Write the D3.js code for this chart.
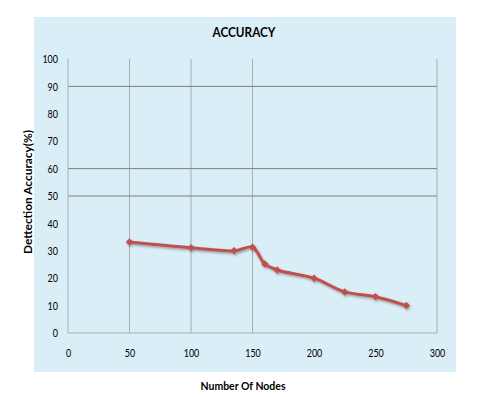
<!DOCTYPE html>
<html><head><meta charset="utf-8">
<script src="https://cdn.jsdelivr.net/npm/d3@7"></script>
<style>body{margin:0;background:#fff}svg{display:block}</style>
</head><body>
<svg id="c" width="500" height="397"></svg>
<script>
const nodes = [50, 100, 135, 150, 160, 170, 200, 225, 250, 275];
const accuracy = [33.2, 31.1, 30.0, 31.3, 25.2, 23.0, 20.0, 15.0, 13.2, 10.0];
const xTicks = [0, 50, 100, 150, 200, 250, 300];
const yTicks = [0, 10, 20, 30, 40, 50, 60, 70, 80, 90, 100];
const xGrid = [50, 100, 150, 300];
const yGrid = [90, 60, 50];
const title = "ACCURACY";
const xLabel = "Number Of Nodes";
const yLabel = "Dettection Accuracy(%)";

const svg = d3.select("#c");
const font = "Lato,'Liberation Sans',sans-serif";
const defs = svg.append("defs");
const f = defs.append("filter").attr("id","sh").attr("x","-20%").attr("y","-20%").attr("width","140%").attr("height","140%");
f.append("feDropShadow").attr("dx",1).attr("dy",1.5).attr("stdDeviation",1).attr("flood-color","#000").attr("flood-opacity",0.35);

svg.append("rect").attr("x",34).attr("y",17).attr("width",422).attr("height",355).attr("fill","#DAEEF7");

const x = d3.scaleLinear().domain([0,300]).range([68,437]);
const y = d3.scaleLinear().domain([0,100]).range([333,59]);

const g = svg.append("g");
g.selectAll(".vg").data(xGrid).join("line")
  .attr("x1",d=>x(d)).attr("x2",d=>x(d)).attr("y1",y(100)).attr("y2",y(0))
  .attr("stroke","#A5AFB5").attr("stroke-width",1);
g.selectAll(".hg").data(yGrid).join("line")
  .attr("x1",x(0)).attr("x2",x(300)).attr("y1",d=>y(d)).attr("y2",d=>y(d))
  .attr("stroke","#7F7F7F").attr("stroke-width",1);
g.append("line").attr("x1",x(0)).attr("x2",x(0)).attr("y1",y(100)).attr("y2",y(0)).attr("stroke","#A5AFB5");
g.append("line").attr("x1",x(0)).attr("x2",x(300)).attr("y1",y(0)).attr("y2",y(0)).attr("stroke","#A5AFB5");

function squeeze(sel){
  sel.attr("font-family",font).attr("font-size",11.5).attr("fill","#000")
    .attr("lengthAdjust","spacingAndGlyphs")
    .attr("textLength",function(){ return this.textContent.length*5.2; });
}
const yAxis = d3.axisLeft(y).tickValues(yTicks).tickSize(0).tickPadding(10);
svg.append("g").attr("transform",`translate(${x(0)},0)`).call(yAxis)
  .call(s=>s.select(".domain").remove())
  .selectAll("text").call(squeeze);
const xAxis = d3.axisBottom(x).tickValues(xTicks).tickSize(0).tickPadding(16);
svg.append("g").attr("transform",`translate(0,${y(0)})`).call(xAxis)
  .call(s=>s.select(".domain").remove())
  .selectAll("text").call(squeeze);

const data = nodes.map((n,i)=>({n, v: accuracy[i]}));
const line = d3.line().x(d=>x(d.n)).y(d=>y(d.v)).curve(d3.curveCatmullRom.alpha(0.5));
const sg = svg.append("g").attr("filter","url(#sh)");
sg.append("path").datum(data).attr("d",line).attr("fill","none")
  .attr("stroke","#C0504D").attr("stroke-width",3).attr("stroke-linejoin","round");
sg.selectAll(".m").data(data).join("path")
  .attr("transform",d=>`translate(${x(d.n)},${y(d.v)})`)
  .attr("d",d3.symbol(d3.symbolDiamond2,36)())
  .attr("fill","#C0504D");

svg.append("text").attr("x",244).attr("y",37).attr("text-anchor","middle")
  .attr("font-family",font).attr("font-weight","bold").attr("font-size",13)
  .attr("textLength",63).attr("lengthAdjust","spacingAndGlyphs").text(title);
svg.append("text").attr("x",243).attr("y",390).attr("text-anchor","middle")
  .attr("font-family",font).attr("font-weight","bold").attr("font-size",11.5)
  .attr("textLength",85).attr("lengthAdjust","spacingAndGlyphs").text(xLabel);
svg.append("text").attr("transform","translate(32,192) rotate(-90)").attr("text-anchor","middle")
  .attr("font-family",font).attr("font-weight","bold").attr("font-size",11.5)
  .attr("textLength",124).attr("lengthAdjust","spacingAndGlyphs").text(yLabel);
</script>
</body></html>
